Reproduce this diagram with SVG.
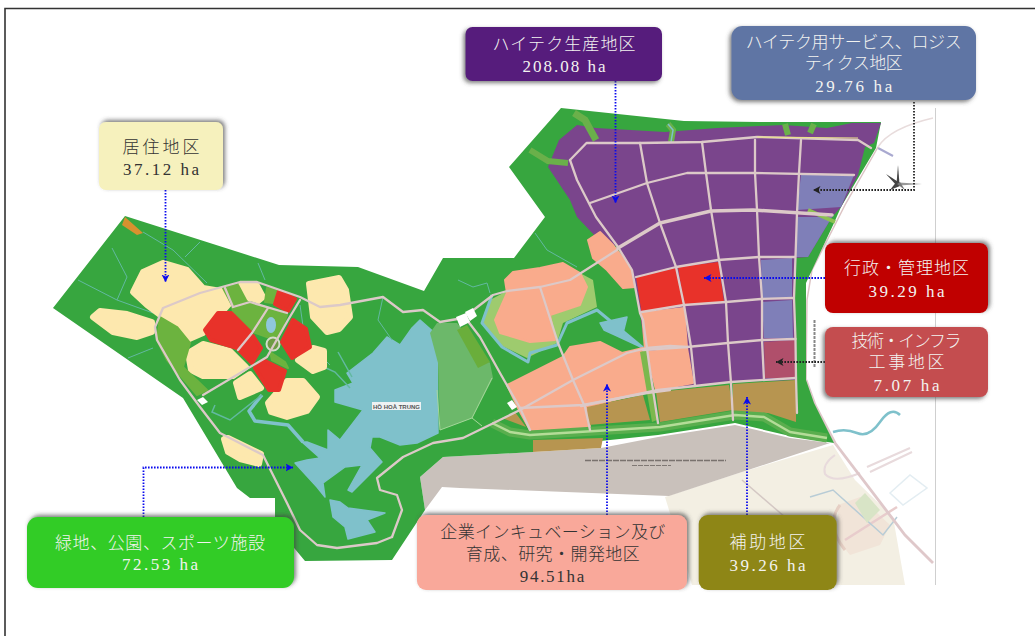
<svg xmlns="http://www.w3.org/2000/svg" width="1035" height="636" viewBox="0 0 1035 636">
<style>
text{font-family:"Liberation Serif","Noto Sans CJK JP",sans-serif;font-size:17px;text-anchor:middle;font-weight:300}
.lt{fill:#f3f3f0}.dk{fill:#333}
.box{stroke:none}
.tr{filter:url(#shTR)}.bl{filter:url(#shBL)}
.conn{fill:none;stroke-width:1.8;stroke-dasharray:1.6 1.4}
.blue{stroke:#0a0aee;marker-end:url(#ab)}.blk{stroke:#222;marker-end:url(#ak)}
.r{fill:none;stroke:#dcc9c8;stroke-width:2.3;stroke-linejoin:round;stroke-linecap:round}
.rw{stroke-width:3.6}
.s{fill:none;stroke:#62b9a0;stroke-width:1;stroke-linejoin:round}
.c{fill:#fde8ae;stroke:#fde8ae;stroke-width:6;stroke-linejoin:round}
.red{fill:#e8322a;stroke:#e8322a;stroke-width:4;stroke-linejoin:round}
.pk{fill:#f9ab8c;stroke:#f9ab8c;stroke-width:2;stroke-linejoin:round}
.pu{fill:#7a458c}.bp{fill:#7f7fb8}.br{fill:#b79550}
.mg{fill:#6cb33f;stroke:#6cb33f;stroke-width:2;stroke-linejoin:round}
.lk{fill:#7fc1cb;stroke:#7fc1cb;stroke-width:1.5;stroke-linejoin:round}
.g{fill:#fff}
.fr{fill:none;stroke:#e8dadc;stroke-width:2}
</style>
<defs>
<filter id="shTR" x="-15%" y="-25%" width="130%" height="150%"><feDropShadow dx="2" dy="-2" stdDeviation="2" flood-color="#444" flood-opacity=".7"/></filter>
<filter id="shBL" x="-15%" y="-25%" width="130%" height="150%"><feDropShadow dx="-2" dy="2" stdDeviation="2" flood-color="#444" flood-opacity=".7"/></filter>
<marker id="ab" markerUnits="userSpaceOnUse" markerWidth="9" markerHeight="9" refX="7.5" refY="4" orient="auto"><path d="M0 0L7.5 4L0 8L2 4Z" fill="#0a0aee"/></marker>
<marker id="ak" markerUnits="userSpaceOnUse" markerWidth="9" markerHeight="9" refX="7.5" refY="4" orient="auto"><path d="M0 0L7.5 4L0 8L2 4Z" fill="#222"/></marker>
</defs>
<rect width="1035" height="636" fill="#fff"/>
<path d="M5 636V8.500H1035" fill="none" stroke="#333" stroke-width="1.6"/>

<g id="map">
<line x1="935.500" y1="108" x2="935.500" y2="585" stroke="#cfcfcf" stroke-width="1"/>
<path d="M878 147Q890 128 933 118" fill="none" stroke="#e8dcdc" stroke-width="1.500"/>
<line x1="878" y1="148" x2="893" y2="156" stroke="#a9a9d0" stroke-width="2"/>
<polygon points="665,497 742,472 833,445 855,480 893,517 905,585 692,585" fill="#f3efe3"/>
<polygon points="420,477 443,457 533,452 601,448 658,437 735,425 790,438 830,443 669,496 460,488 442,487 425,510" fill="#c9c1bb"/>
<line x1="585" y1="460.500" x2="726" y2="460.500" stroke="#79726e" stroke-width="1.400" stroke-dasharray="6 1"/>
<line x1="632" y1="465.500" x2="671" y2="465.500" stroke="#7f7874" stroke-width="1.200" stroke-dasharray="5 1"/>

<g id="outskirts">
<polygon points="838,505 860,497 890,525 880,545 850,555 838,540" fill="#f1e4d8"/>
<path d="M835 455Q822 464 825 474Q834 484 860 473" class="fr"/>
<path d="M910 448L867 467M912 452L870 472" class="fr"/>
<path d="M845 540L897 507" fill="none" stroke="#e8cccc" stroke-width="2.500"/>
<polyline points="810,497 833,490 883,535 897,517" fill="none" stroke="#b8ccd6" stroke-width="1.500"/>
<polygon points="855,503 865,493 880,510 867,523" fill="#d8e4c6"/>
<polygon points="890,493 910,475 927,488 903,505" fill="none" stroke="#e3edf2" stroke-width="1.500"/>
<path d="M840 505Q825 525 845 550" fill="none" stroke="#e6cfc4" stroke-width="3"/>
<path d="M742 480L800 530" fill="none" stroke="#d4c8c4" stroke-width="1.500"/>
<path d="M833 432Q845 428 857 433T880 422T900 415" fill="none" stroke="#7fc1cb" stroke-width="2.500"/>
<polyline points="806,380 815,405 835,443 905,535 933,563" fill="none" stroke="#dfc8ca" stroke-width="2.800"/>
<polyline points="878,147 845,205 812,270 807,300 806,380" fill="none" stroke="#dcc4c4" stroke-width="1.500"/>
</g>

<polygon fill="#37a63f" points="53,308 125,216 279,265 358,267 424,291 443,258 514,258 545,217 509,167 561,108 684,121 759,122 881,122 876,148 841,207 834,223 806,283 806,380 814,403 834,443 790,436 735,423 658,435 533,448 533,452 443,457 420,477 425,510 392,560 305,561 275,525 275,498 250,498 237,488 183,398"/>

<g id="lake">
<polygon class="lk" points="420,320 437,335 438,433 417,443 400,445 380,437 372,437 370,448 382,462 352,492 348,490 362,465 345,467 323,483 325,497 317,487 295,463 307,460 320,458 302,442 307,442 328,450 328,430 340,440 363,410 335,402 335,390 353,383 347,373 373,353 387,337 400,345 412,328"/>
<polygon class="lk" points="330,500 340,502 348,508 385,513 367,520 375,532 348,539 345,527 333,517"/>
<polyline points="303,442 288,425 255,421 249,411 262,395" fill="none" stroke="#7fc1cb" stroke-width="3.500" stroke-linejoin="round"/>
<polyline points="215,405 212,412 230,420 258,398 262,395" fill="none" stroke="#62b9a0" stroke-width="1.500"/>
<path d="M350 388L335 372L326 368M352 377L338 352" fill="none" stroke="#62b9a0" stroke-width="1.500"/>
</g>

<g id="streams">
<polyline class="s" points="78,280 117,300 127,277 112,248"/>
<polyline class="s" points="117,300 153,313"/>
<polyline class="s" points="143,232 173,250 207,283"/>
<polyline class="s" points="185,257 200,242"/>
<polyline class="s" points="258,263 265,280"/>
<polyline class="s" points="128,358 153,348"/>
<polyline class="s" points="300,305 305,340 330,365"/>
<polyline class="s" points="383,297 378,320 392,340"/>
<polyline class="s" points="535,233 547,250 577,267"/>
<polyline class="s" points="458,280 473,287 487,283 490,293"/>
</g>

<g id="residential">
<polygon class="c" points="133,292 143,272 163,263 187,270 203,288 227,292 230,303 203,333 187,340 163,317 147,305"/>
<polygon class="c" points="93,317 100,311 127,314 152,322 152,332 137,337 113,332"/>
<polygon class="c" points="240,286 256,284 263,297 257,302 247,297"/>
<polygon class="c" points="309,284 339,278 346,290 350,317 339,329 327,332 313,317"/>
<polygon class="c" points="188,353 203,344 230,351 246,367 233,376 203,376 191,370"/>
<polygon class="c" points="236,383 250,374 261,388 240,397"/>
<polygon class="c" points="268,403 287,381 303,381 317,397 307,411 287,417 271,412"/>
<polygon class="c" points="298,360 313,348 324,351 324,367 313,371"/>
<polygon class="c" points="224,439 228,438 261,454 259,464 240,459 228,452"/>
</g>
<g id="centre">
<polygon class="mg" points="160,317 177,327 190,343 183,367 207,390 197,395 167,360 157,340"/>
<polygon class="mg" points="232,307 250,302 287,315 278,338 267,337 253,332 233,312"/>
<polygon class="mg" points="223,288 238,285 247,302 232,305"/>
<polygon class="mg" points="267,288 277,290 273,303 265,302"/>
<polygon class="mg" points="270,352 285,362 288,368 272,360"/>
<ellipse cx="271" cy="325" rx="5" ry="8" fill="#8fc7dc"/>
<circle cx="273" cy="344" r="6.500" fill="#6f9b45" stroke="#d5dccb" stroke-width="2"/>
<polygon class="red" points="205,330 218,313 231,313 250,332 237,348 211,340"/>
<polygon class="red" points="239,350 253,336 261,348 252,363"/>
<polygon class="red" points="255,368 265,361 285,371 279,390 269,390"/>
<polygon class="red" points="282,342 293,320 306,329 310,347 292,358"/>
<polygon class="red" points="279,291 295,299 288,311 275,304"/>
</g>

<g id="hightech">
<polygon class="pu" points="548,167 559,140 577,125 596,128 665,132 717,128 783,125 827,128 852,123 881,123 874,143 865,147 858,175 841,207 832,217 808,257 795,258 795,380 731,382 658,390 645,350 640,313 632,270 618,247 596,237 577,217 570,200"/>
<polygon class="bp" points="801,175 854,175 841,207 797,210"/>
<polygon class="bp" points="797,217 832,217 808,257 795,257"/>
<polygon class="bp" points="761,260 792,258 792,298 762,299"/>
<polygon class="bp" points="762,302 792,300 793,338 764,338"/>
<polygon fill="#b04f6b" points="764,342 795.500,340 796,378 765,378"/>
<polygon fill="#e8322a" points="636,277 676,268 684,305 641.500,312"/>
<polygon fill="#e8322a" points="678,267 718.500,262 724,302 684,305"/>
</g>

<g id="incubation">
<polygon class="pk" points="588,240 600,232 613,245 630,267 635,287 623,288 607,270 593,258"/>
<polygon class="pk" points="642,313 684,308 687,347 645,350"/>
<polygon class="pk" points="647,352 687,348 693,383 656,390"/>
<polygon fill="#9ecb6e" points="580,273 593,280 597,307 563,323 557,343 527,358 500,345 483,323 490,300 505,292"/>
<polygon class="pk" points="505,280 513,272 540,268 563,263 580,273 587,287 580,305 550,315 555,340 530,342 500,333 495,320 507,293"/>
<polyline points="492,295 482,323 502,347 528,362 530,353 557,345 567,323 597,310 643,348" fill="none" stroke="#7fc1cb" stroke-width="3" stroke-linejoin="round"/>
<polygon class="lk" points="600,323 627,317 623,333 643,348 615,335 604,330"/>
<polygon class="pk" points="507,385 563,357 570,347 600,342 622,353 643,348 653,390 587,407 590,427 530,430 520,412"/>
</g>
<g id="support">
<polygon class="br" points="587,407 643,395 650,420 588,425"/>
<polygon class="br" points="656,392 729,385 733,410 660,422"/>
<polygon class="br" points="733,384 796,380 796,422 768,413 733,412"/>
<polygon class="br" points="502,418 515,412 526,427"/>
<polygon class="br" points="533,440 603,438 601,448 533,452"/>
</g>
<g id="park">
<polygon fill="#6cb86a" points="430,333 437,323 457,323 490,363 493,378 472,418 440,430 438,363"/>
<polygon fill="#6aae3b" points="457,330 467,325 490,362 478,368"/>
<polyline points="492,378 472,418 440,430 437,390" fill="none" stroke="#a5d79a" stroke-width="1"/>
<polyline points="472,418 482,426" fill="none" stroke="#a5d79a" stroke-width="1"/>
<polygon fill="#7cb84e" points="640,352 647,350 657,420 652,422"/>
</g>
<g id="canals" fill="none">
<polyline points="574,113 585,120 596,140" stroke="#6ab04a" stroke-width="7"/>
<polyline points="530,150 548,161 568,163" stroke="#6ab04a" stroke-width="6"/>
<polyline points="668,124 673,130 671,142" stroke="#6ab04a" stroke-width="6"/>
<polyline points="785,124 788,135" stroke="#6ab04a" stroke-width="6"/>
<polyline points="814,124 810,133" stroke="#6ab04a" stroke-width="6"/>
<polyline points="668,124 673,130 671,142" stroke="#7fc1cb" stroke-width="1.500"/>
<polyline points="492,423 510,432 530,435 660,427 735,415 764,417 790,432 827,438" stroke="#5aae4e" stroke-width="9" stroke-linejoin="round"/>
<polyline points="492,423 510,432 530,435 660,427 735,415 764,417 790,432 827,438" stroke="#b4dc98" stroke-width="2.500" stroke-linejoin="round"/>
<polyline points="808,210 835,222" stroke="#8cc152" stroke-width="4"/>
</g>
<g id="roads">
<polyline class="r" points="392,537 377,543 337,548 317,545 300,530 287,503 263,455 220,433 200,407 180,380 157,340 155,327 163,308 200,293 240,282 257,282 300,297 320,307 340,305 383,297 403,312 423,310 440,322 463,318 493,295 507,291 540,287 570,280 617,250"/>
<polyline class="r" points="392,537 402,510 397,495 380,490 377,478 403,457 433,443 463,438 520,410 573,380 627,353 647,348 670,346 687,347"/>
<polyline class="r" points="467,320 480,337 500,373 520,408 530,430"/>
<polyline class="r" points="540,287 558,343 573,380 585,407 590,430"/>
<polyline class="r" points="520,408 583,405 647,393 670,390"/>
<polyline class="r" points="233,307 250,302 287,313"/>
<polyline class="r" points="225,288 233,307"/>
<polyline class="r" points="300,300 288,320 267,357 203,395"/>
<polyline class="r" points="268,308 252,333 238,350"/>
<polyline class="r" points="570,160 586.500,143 640,143 702,142 757,137 858,140 871,148"/>
<polyline class="r" points="570,160 577,180 596,217 618,247 632,270 640,313 643,320 651,377 658,423"/>
<polyline class="r" points="640,143 647,183 660,223 676,267 684,305 691,347 695,386"/>
<polyline class="r" points="702,142 706,173 711,210 718.500,257 726,302 728,343 731,383 733,420"/>
<polyline class="r" points="755,140 755,173 757,210 759,257 762,299 762,340 764,380"/>
<polyline class="r" points="801,140 799,173 797,213 795.500,257 794,298 795.500,340 796,378 797,413"/>
<polyline class="r" points="590,203 647,183 687,173 753,173 854,175"/>
<polyline class="r rw" points="618,248 660,223 711,211 753,210 832,215"/>
<polyline class="r" points="636,277 676,267 718,260 759,257 795,257"/>
<polyline class="r" points="641.500,312 684,305 726,302 761,299 794,298"/>
<polyline class="r" points="643,350 687,347 728,343 762,340 795.500,339"/>
<polyline class="r" points="581,406 658,390 695,386 731,382 796,378"/>
<polyline class="s" points="757,137 858,138" style="stroke:#e9df8c;stroke-width:1.200"/>
</g>
<g id="gates" class="g">
<polygon points="456,317 466,313 470,322 460,327"/>
<polygon points="465,312 473,308 477,316 470,321"/>
<polygon points="507,403 512,400 517,407 512,410"/>
<polygon points="197,400 203,397 208,402 202,405"/>
</g>
<polygon fill="#d8912f" points="122,225 125,217 143,233 137,235"/>
<rect x="372" y="402" width="49" height="8" fill="#eef2f3"/>
<text x="396.500" y="408.500" style="font-family:'Liberation Sans',sans-serif;font-size:6px;font-weight:700;fill:#555">HỒ HOÀ TRUNG</text>
<line x1="814.500" y1="320" x2="814.500" y2="368" stroke="#888" stroke-width="2" stroke-dasharray="3 1"/>
<g id="compass" fill="#444">
<polygon points="898,165 899.500,184 896.500,184"/>
<polygon points="922,184 899,182.500 899,185.500" fill="#999"/>
<polygon points="886,174 900,183 897,186"/>
<polygon points="890,190 897,181 900,186"/>
<polygon points="905,190 897,184 900,182" fill="#777"/>
</g>
</g>

<g id="connectors">
<path class="conn blue" d="M615.500 81V203"/>
<path class="conn blk" d="M914 102V190H813"/>
<path class="conn blue" d="M825 278H704"/>
<path class="conn blk" d="M825 362H776"/>
<path class="conn blue" d="M607 515V384"/>
<path class="conn blue" d="M747 515V397"/>
<path class="conn blue" d="M143.500 517V467.500H293"/>
<path class="conn blue" d="M165.500 190V282"/>
</g>

<g id="n-residential"><rect class="box tr" x="99" y="122" width="124" height="68" rx="7" fill="#f6f1bd"/>
<text class="dk" x="161" y="153" textLength="77">居住地区</text><text class="dk" x="161" y="175" textLength="76">37.12 ha</text></g>
<g id="n-hightech"><rect class="box bl" x="465.500" y="27" width="196.500" height="54" rx="7" fill="#561f7b"/>
<text class="lt" x="564" y="50" textLength="143">ハイテク生産地区</text><text class="lt" x="564" y="72" textLength="83">208.08 ha</text></g>
<g id="n-service"><rect class="box bl" x="731.500" y="26" width="244.500" height="74" rx="11" fill="#5e75a4"/>
<text class="lt" x="853.700" y="48" textLength="216">ハイテク用サービス、ロジス</text><text class="lt" x="853.700" y="69" textLength="98">ティクス地区</text><text class="lt" x="853.700" y="92" textLength="77">29.76 ha</text></g>
<g id="n-admin"><rect class="box tr" x="825" y="243" width="163" height="70" rx="8" fill="#c00000"/>
<text class="lt" x="906.500" y="274" textLength="125">行政・管理地区</text><text class="lt" x="906.500" y="297" textLength="76">39.29 ha</text></g>
<g id="n-infra"><rect class="box bl" x="825" y="327" width="163" height="70" rx="8" fill="#c44e4f"/>
<text class="lt" x="906.500" y="347" textLength="110">技術・インフラ</text><text class="lt" x="906.500" y="368" textLength="76">工事地区</text><text class="lt" x="906.500" y="391" textLength="66">7.07 ha</text></g>
<g id="n-green"><rect class="box tr" x="27" y="517" width="267" height="71" rx="11" fill="#33cc28"/>
<text class="lt" x="160" y="549" textLength="210">緑地、公園、スポーツ施設</text><text class="lt" x="160" y="570" textLength="76">72.53 ha</text></g>
<g id="n-incubation"><rect class="box tr" x="417" y="515" width="270" height="75" rx="9" fill="#f9a89a"/>
<text class="dk" x="552.800" y="538" textLength="225">企業インキュベーション及び</text><text class="dk" x="552.800" y="560" textLength="174">育成、研究・開発地区</text><text class="dk" x="552" y="582" textLength="64.500">94.51ha</text></g>
<g id="n-support"><rect class="box tr" x="698.700" y="515" width="138" height="75" rx="9" fill="#8e8614"/>
<text class="lt" x="767.500" y="548" textLength="76">補助地区</text><text class="lt" x="767.500" y="571" textLength="76">39.26 ha</text></g>
</svg>
